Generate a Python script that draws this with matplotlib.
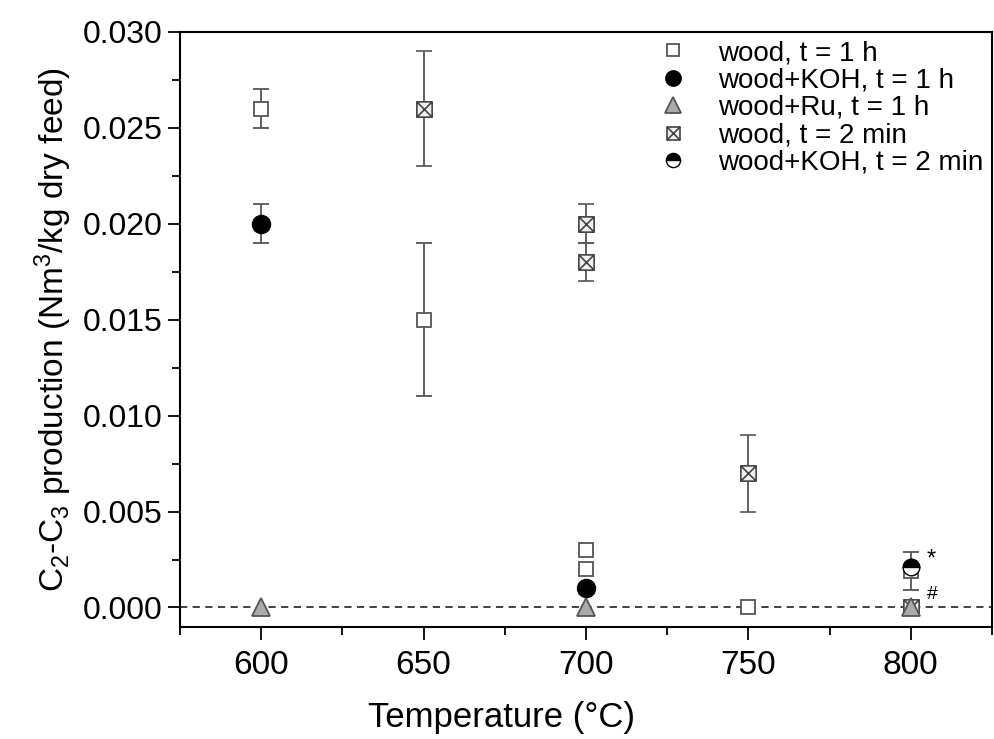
import numpy as np
import matplotlib.pyplot as plt
from matplotlib.path import Path
from matplotlib.ticker import MultipleLocator

plt.rcParams['font.family'] = ['Liberation Sans', 'DejaVu Sans']
plt.rcParams['mathtext.default'] = 'regular'

# wood, t = 1 h
t_wood1h = [600, 650, 700, 700, 750, 800]
y_wood1h = [0.026, 0.015, 0.003, 0.002, 0.0, 0.0019]
e_wood1h = [0.001, 0.004, 0.0, 0.0, 0.0, 0.001]

# wood+KOH, t = 1 h
t_koh1h = [600, 700]
y_koh1h = [0.020, 0.001]
e_koh1h = [0.001, 0.0]

# wood+Ru, t = 1 h
t_ru1h = [600, 700, 800]
y_ru1h = [0.0, 0.0, 0.0]

# wood, t = 2 min
t_wood2m = [650, 700, 700, 750, 800]
y_wood2m = [0.026, 0.020, 0.018, 0.007, 0.0]
e_wood2m = [0.003, 0.001, 0.001, 0.002, 0.0]

# wood+KOH, t = 2 min
t_koh2m = [800]
y_koh2m = [0.0021]

# crossed square marker
verts = [(-1, -1), (1, -1), (1, 1), (-1, 1), (-1, -1),
         (-1, -1), (1, 1), (-1, 1), (1, -1)]
codes = [Path.MOVETO, Path.LINETO, Path.LINETO, Path.LINETO, Path.CLOSEPOLY,
         Path.MOVETO, Path.LINETO, Path.MOVETO, Path.LINETO]
xsquare = Path(verts, codes)

fig = plt.figure(figsize=(9.94, 7.39), dpi=100)
ax = fig.add_axes([0.181, 0.152, 0.817, 0.805])

ax.axhline(0, color='#333333', ls=(0, (4, 3)), lw=1.3, zorder=1)

ebkw = dict(ls='none', ecolor='#555555', elinewidth=1.3, capsize=6, capthick=1.3)
h1 = ax.errorbar(t_wood1h, y_wood1h, yerr=e_wood1h, marker='s', ms=10, mfc='white',
                 mec='#555555', mew=1.3, zorder=3, **ebkw)[0]
h2 = ax.errorbar(t_koh1h, y_koh1h, yerr=e_koh1h, marker='o', ms=13, mfc='black',
                 mec='black', zorder=4, **ebkw)[0]
h3, = ax.plot(t_ru1h, y_ru1h, ls='none', marker='^', ms=13, mfc='#aaaaaa',
              mec='#555555', mew=1.3, zorder=5)
h4 = ax.errorbar(t_wood2m, y_wood2m, yerr=e_wood2m, marker=xsquare, ms=11, mfc='#f0f0f0',
                 mec='#444444', mew=1.2, zorder=3, **ebkw)[0]
h5, = ax.plot(t_koh2m, y_koh2m, ls='none', marker='o', ms=12, fillstyle='top',
              mfc='black', mfcalt='white', mec='black', mew=1.0, zorder=6)

ax.text(805, 0.0025, '*', fontsize=17, ha='left', va='center')
ax.text(805, 0.0007, '#', fontsize=14, ha='left', va='center')

ax.set_xlim(575, 825)
ax.set_ylim(-0.001, 0.030)
ax.xaxis.set_major_locator(MultipleLocator(50))
ax.xaxis.set_minor_locator(MultipleLocator(25))
ax.yaxis.set_major_locator(MultipleLocator(0.005))
ax.yaxis.set_minor_locator(MultipleLocator(0.0025))
ax.yaxis.set_major_formatter(plt.FormatStrFormatter('%.3f'))
ax.tick_params(which='both', direction='out', top=False, right=False, width=1.3)
ax.tick_params(axis='y', labelsize=23)
ax.tick_params(axis='x', labelsize=24, pad=8)
ax.tick_params(which='major', length=9)
ax.tick_params(which='minor', length=6)
for s in ax.spines.values():
    s.set_linewidth(1.5)

ax.set_xlabel('Temperature (°C)', fontsize=25)
ax.xaxis.set_label_coords(0.396, -0.125)
ax.set_ylabel('C$_2$-C$_3$ production (Nm$^3$/kg dry feed)', fontsize=24, labelpad=6)

labels = ['wood, t = 1 h', 'wood+KOH, t = 1 h', 'wood+Ru, t = 1 h',
          'wood, t = 2 min', 'wood+KOH, t = 2 min']
ax.legend([h1, h2, h3, h4, h5], labels, loc='upper right', frameon=False,
          fontsize=20, labelspacing=0.05, handletextpad=0.9, borderaxespad=0.1,
          borderpad=0.2, handlelength=1.5, markerscale=0.85)

fig.savefig('out.png', dpi=100)
